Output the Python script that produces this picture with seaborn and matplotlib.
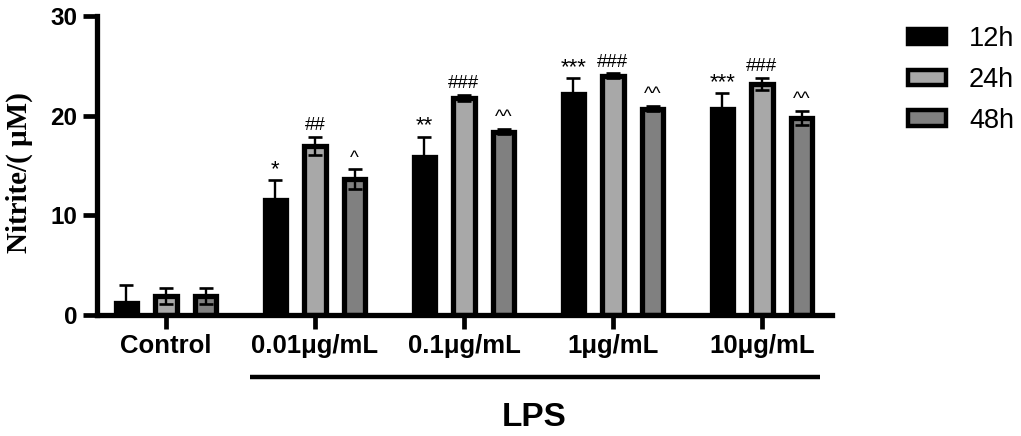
import numpy as np
import pandas as pd
import matplotlib
matplotlib.use("Agg")
import matplotlib.pyplot as plt
from matplotlib.patches import Patch
import seaborn as sns

# ---- data ----
groups = ["Control", "0.01μg/mL", "0.1μg/mL", "1μg/mL", "10μg/mL"]
times = ["12h", "24h", "48h"]
vals_12h = [1.2, 11.5, 15.9, 22.2, 20.7]
vals_24h = [1.9, 17.0, 21.8, 24.0, 23.2]
vals_48h = [1.9, 13.6, 18.4, 20.7, 19.8]
err_12h = [1.8, 2.0, 2.0, 1.6, 1.6]
err_24h = [0.8, 0.9, 0.3, 0.25, 0.6]
err_48h = [0.8, 1.0, 0.25, 0.25, 0.7]
sig_12h = ["", "*", "**", "***", "***"]
sig_24h = ["", "##", "###", "###", "###"]
sig_48h = ["", "^", "^^", "^^", "^^"]
colors = ["#000000", "#a8a8a8", "#808080"]

values = {"12h": vals_12h, "24h": vals_24h, "48h": vals_48h}
errors = {"12h": err_12h, "24h": err_24h, "48h": err_48h}
sigs = {"12h": sig_12h, "24h": sig_24h, "48h": sig_48h}

df = pd.DataFrame({
    "group": [g for t in times for g in groups],
    "time": [t for t in times for g in groups],
    "value": [v for t in times for v in values[t]],
})

sns.set_style("ticks")
plt.rcParams["font.family"] = ["Liberation Sans", "DejaVu Sans"]
for k in ["text.color", "axes.labelcolor", "xtick.color", "ytick.color",
          "axes.edgecolor"]:
    plt.rcParams[k] = "black"

fig = plt.figure(figsize=(10.21, 4.36), dpi=100)
ax = fig.add_axes([97 / 1021, 1 - 315 / 436, (832 - 97) / 1021, (315 - 16) / 436])

sns.barplot(data=df, x="group", y="value", hue="time", order=groups,
            hue_order=times, palette=colors, edgecolor="black", linewidth=3.8,
            gap=0.46, errorbar=None, legend=False, ax=ax, zorder=2)

bar_containers = list(ax.containers)
for i, cont in enumerate(bar_containers):
    t = times[i]
    for j, bar in enumerate(cont):
        x = bar.get_x() + bar.get_width() / 2
        y = bar.get_height()
        e = errors[t][j]
        ax.errorbar(x, y, yerr=e, fmt="none", ecolor="black", elinewidth=1.7,
                    capsize=4.8, capthick=1.9, zorder=5)
        if sigs[t][j]:
            star = "*" in sigs[t][j]
            ax.annotate(sigs[t][j], (x, y + e), xytext=(0, 0 if star else 2),
                        textcoords="offset points", ha="center", va="bottom",
                        fontsize=16 if star else 13.5, color="black",
                        family=["Liberation Sans", "DejaVu Sans"])

ax.set_ylim(0, 30)
ax.set_xlim(-0.463, 4.47)
ax.set_yticks([0, 10, 20, 30])
ax.set_yticklabels(["0", "10", "20", "30"])
sns.despine(ax=ax)
for s in ["left", "bottom"]:
    ax.spines[s].set_linewidth(3.8)
    ax.spines[s].set_color("black")
ax.tick_params(axis="both", length=10, width=3.4, color="black",
               labelcolor="black", direction="out")
ax.tick_params(axis="y", pad=4)
ax.tick_params(axis="x", pad=4)
for lab in ax.get_yticklabels():
    lab.set_fontweight("bold")
    lab.set_fontsize(17.5)
for lab in ax.get_xticklabels():
    lab.set_fontweight("bold")
    lab.set_fontsize(18.5)

ax.set_xlabel("")
ax.set_ylabel("Nitrite/( μM)", fontsize=21, fontweight="bold", color="black",
              family=["Liberation Serif", "DejaVu Serif"])
ax.yaxis.set_label_coords(-0.087, 0.478)

# LPS bracket line and label
trans = ax.get_xaxis_transform()
ax.plot([0.563, 4.39], [-0.207, -0.207], color="black", lw=3.2, transform=trans,
        clip_on=False, solid_capstyle="butt")
ax.text(2.47, -0.344, "LPS", transform=trans, ha="center", va="center",
        fontsize=24, fontweight="bold", color="black")

handles = [Patch(facecolor=c, edgecolor="black", linewidth=3.2, label=t)
           for c, t in zip(colors, times)]
leg = fig.legend(handles=handles, loc="upper left",
                 bbox_to_anchor=(908 / 1021, 1 - 26 / 436),
                 frameon=False, fontsize=19.5, handlelength=1.4, handleheight=0.5,
                 handletextpad=0.85, labelspacing=0.55, borderpad=0, borderaxespad=0)
for txt in leg.get_texts():
    txt.set_color("black")

fig.savefig("out.png", dpi=100)
